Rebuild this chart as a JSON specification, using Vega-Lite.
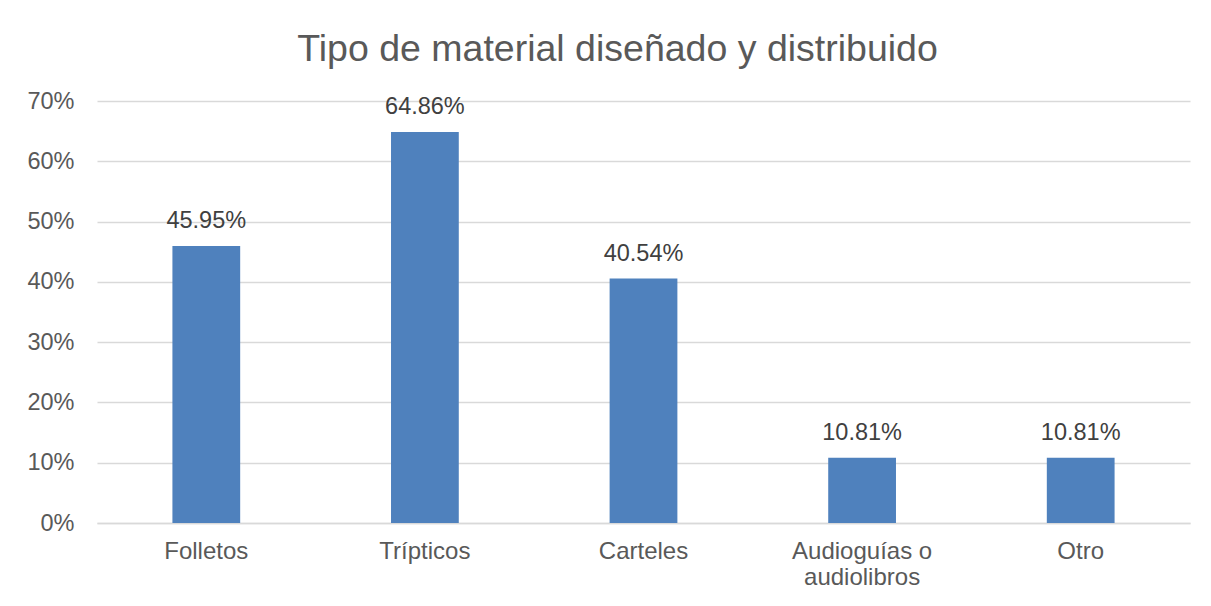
{
  "$schema": "https://vega.github.io/schema/vega-lite/v6.json",
  "width": 1093,
  "height": 422,
  "autosize": {"type": "none"},
  "padding": {"left": 97, "top": 101, "right": 21, "bottom": 83},
  "background": "white",
  "title": {
    "text": "Tipo de material diseñado y distribuido",
    "font": "Liberation Sans",
    "fontSize": 37.5,
    "fontWeight": "normal",
    "color": "#595959",
    "anchor": "middle",
    "dx": -26,
    "offset": 21
  },
  "data": {
    "values": [
      {"material": "Folletos", "pct": 0.4595},
      {"material": "Trípticos", "pct": 0.6486},
      {"material": "Carteles", "pct": 0.4054},
      {"material": "Audioguías o audiolibros", "pct": 0.1081},
      {"material": "Otro", "pct": 0.1081}
    ]
  },
  "encoding": {
    "x": {
      "field": "material",
      "type": "nominal",
      "sort": null,
      "scale": {"paddingInner": 0, "paddingOuter": 0},
      "axis": {
        "title": null,
        "labelAngle": 0,
        "labelFont": "Liberation Sans",
        "labelFontSize": 24,
        "labelColor": "#595959",
        "labelPadding": 16,
        "labelLineHeight": 26,
        "labelExpr": "datum.label == 'Audioguías o audiolibros' ? ['Audioguías o', 'audiolibros'] : datum.label",
        "ticks": false,
        "domainColor": "#d9d9d9",
        "domainWidth": 1.5,
        "grid": false
      }
    },
    "y": {
      "field": "pct",
      "type": "quantitative",
      "scale": {"domain": [0, 0.7]},
      "axis": {
        "title": null,
        "format": ".0%",
        "values": [0, 0.1, 0.2, 0.3, 0.4, 0.5, 0.6, 0.7],
        "labelFont": "Liberation Sans",
        "labelFontSize": 23.5,
        "labelColor": "#595959",
        "labelPadding": 23,
        "ticks": false,
        "domain": false,
        "gridColor": "#d9d9d9",
        "gridWidth": 1.5
      }
    }
  },
  "layer": [
    {
      "mark": {"type": "bar", "color": "#4f81bd", "width": {"band": 0.31}}
    },
    {
      "mark": {
        "type": "text",
        "font": "Liberation Sans",
        "fontSize": 23.5,
        "color": "#404040",
        "baseline": "middle",
        "dy": -25
      },
      "encoding": {
        "text": {"field": "pct", "type": "quantitative", "format": ".2%"}
      }
    }
  ],
  "config": {"view": {"stroke": null}}
}
